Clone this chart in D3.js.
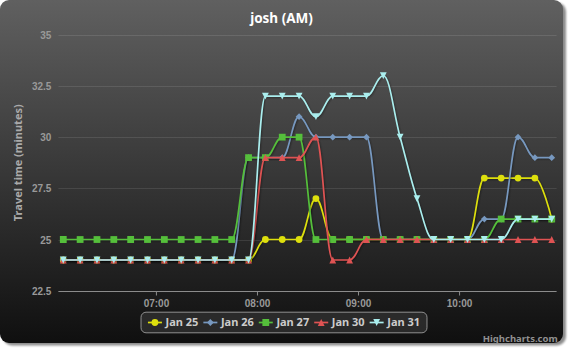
<!DOCTYPE html>
<html>
<head>
<meta charset="utf-8">
<script src="https://cdn.jsdelivr.net/npm/d3@7"></script>
<style>
  html, body { margin: 0; padding: 0; background: #ffffff; }
  svg { display: block; font-family: "Noto Sans", "DejaVu Sans", sans-serif; }
</style>
</head>
<body>
<svg id="chart" width="571" height="349"></svg>
<script>
// ---- data ----
const times = ["06:05","06:15","06:25","06:35","06:45","06:55",
               "07:05","07:15","07:25","07:35","07:45","07:55",
               "08:05","08:15","08:25","08:35","08:45","08:55",
               "09:05","09:15","09:25","09:35","09:45","09:55",
               "10:05","10:15","10:25","10:35","10:45","10:55"];
const seriesNames = ["Jan 25", "Jan 26", "Jan 27", "Jan 30", "Jan 31"];
const jan25 = [24,24,24,24,24,24,24,24,24,24,24,24,25,25,25,27,25,25,25,25,25,25,25,25,25,28,28,28,28,26];
const jan26 = [24,24,24,24,24,24,24,24,24,24,24,29,29,29,31,30,30,30,30,25,25,25,25,25,25,26,26,30,29,29];
const jan27 = [25,25,25,25,25,25,25,25,25,25,25,29,29,30,30,25,25,25,25,25,25,25,25,25,25,25,26,26,26,26];
const jan30 = [24,24,24,24,24,24,24,24,24,24,24,24,29,29,29,30,24,24,25,25,25,25,25,25,25,25,25,25,25,25];
const jan31 = [24,24,24,24,24,24,24,24,24,24,24,24,32,32,32,31,32,32,32,33,30,27,25,25,25,25,25,26,26,26];
const seriesValues = [jan25, jan26, jan27, jan30, jan31];
const seriesColors = ["#DDDF0D", "#7798BF", "#55BF3B", "#DF5353", "#AAEEEE"];
const markerShapes = ["circle", "diamond", "square", "triangle", "triangle-down"];
const yTickValues = [22.5, 25, 27.5, 30, 32.5, 35];
const xTickLabels = ["07:00", "08:00", "09:00", "10:00"];
const titleText = "josh (AM)";
const yTitleText = "Travel time (minutes)";
const creditText = "Highcharts.com";

// ---- layout ----
const chartW = 563, chartH = 343;
const plot = { left: 58.4, right: 556.6, top: 34.8, bottom: 290.7 };
const lineW = 1.7, markerR = 3.4;

const svg = d3.select("#chart");
const defs = svg.append("defs");

const grad = defs.append("linearGradient")
  .attr("id", "bg").attr("gradientUnits", "userSpaceOnUse")
  .attr("x1", 0).attr("y1", 0).attr("x2", 0).attr("y2", 340);
grad.append("stop").attr("offset", 0).attr("stop-color", "rgb(96,96,96)");
grad.append("stop").attr("offset", 1).attr("stop-color", "rgb(16,16,16)");

const blur = defs.append("filter").attr("id", "soft")
  .attr("x", "-5%").attr("y", "-5%").attr("width", "110%").attr("height", "110%");
blur.append("feGaussianBlur").attr("stdDeviation", 1.3);

// frame with its drop shadow
svg.append("rect").attr("x", 3).attr("y", 2.5).attr("width", chartW).attr("height", chartH)
  .attr("rx", 9).attr("fill", "#000").attr("opacity", 0.45).attr("filter", "url(#soft)");
svg.append("rect").attr("x", 0).attr("y", 0).attr("width", chartW).attr("height", chartH)
  .attr("rx", 9).attr("fill", "url(#bg)");

// ---- scales ----
const parseTime = d3.timeParse("%H:%M");
const tDates = times.map(parseTime);
const [t0, t1] = d3.extent(tDates);
const pad = (t1 - t0) * 0.01;
const x = d3.scaleTime()
  .domain([new Date(+t0 - pad), new Date(+t1 + pad)])
  .range([plot.left, plot.right]);
const y = d3.scaleLinear()
  .domain([yTickValues[0], yTickValues[yTickValues.length - 1]])
  .range([plot.bottom, plot.top]);

// ---- grid + y axis ----
svg.append("g").selectAll("line").data(yTickValues.slice(1)).join("line")
  .attr("x1", plot.left).attr("x2", plot.right)
  .attr("y1", d => Math.round(y(d)) + 0.5).attr("y2", d => Math.round(y(d)) + 0.5)
  .attr("stroke", "rgba(255,255,255,0.1)").attr("stroke-width", 1);

const yAxis = svg.append("g").attr("transform", `translate(${plot.left - 7},0)`)
  .call(d3.axisLeft(y).tickValues(yTickValues).tickSize(0).tickPadding(0)
        .tickFormat(d => String(d)));
yAxis.select(".domain").remove();
yAxis.selectAll("text")
  .attr("fill", "#999").attr("font-size", 10).attr("font-weight", "bold")
  .attr("dy", "0.35em");

svg.append("text")
  .attr("transform", `translate(22,${(plot.top + plot.bottom) / 2}) rotate(-90)`)
  .attr("text-anchor", "middle")
  .attr("fill", "#AAA").attr("font-size", 11).attr("font-weight", "bold")
  .text(yTitleText);

// ---- x axis ----
const xAxis = svg.append("g").attr("transform", `translate(0,${Math.round(plot.bottom) + 0.5})`)
  .call(d3.axisBottom(x).tickValues(xTickLabels.map(parseTime)).tickSizeOuter(0)
        .tickSize(4).tickPadding(4).tickFormat(d3.timeFormat("%H:%M")));
xAxis.select(".domain").attr("stroke", "#8c8c8c").attr("d", `M${plot.left},0H${plot.right}`);
xAxis.selectAll(".tick line").attr("stroke", "#8c8c8c");
xAxis.selectAll("text")
  .attr("fill", "#999").attr("font-size", 10).attr("font-weight", "bold");

// ---- title ----
svg.append("text").attr("x", chartW / 2).attr("y", 23)
  .attr("text-anchor", "middle").attr("fill", "#FFF")
  .attr("font-size", 13.5).attr("font-weight", "bold")
  .text(titleText);

// ---- spline curve (cubic, control points at 1/2.5 of the gap, no false extremes) ----
function HcSpline(context) { this._context = context; }
HcSpline.prototype = {
  areaStart() {}, areaEnd() {},
  lineStart() { this._pts = []; },
  point(px, py) { this._pts.push([+px, +py]); },
  lineEnd() {
    const p = this._pts, n = p.length, ctx = this._context;
    const s = 1.5, den = s + 1;
    if (!n) return;
    const ctrl = p.map(([cx, cy], i) => {
      if (i === 0 || i === n - 1) return { lx: cx, ly: cy, rx: cx, ry: cy };
      const [ax, ay] = p[i - 1], [bx, by] = p[i + 1];
      let lcx = (s * cx + ax) / den, lcy = (s * cy + ay) / den;
      let rcx = (s * cx + bx) / den, rcy = (s * cy + by) / den;
      let c = 0;
      if (rcx !== lcx) c = ((rcy - lcy) * (rcx - cx)) / (rcx - lcx) + cy - rcy;
      lcy += c; rcy += c;
      if (lcy > ay && lcy > cy) { lcy = Math.max(ay, cy); rcy = 2 * cy - lcy; }
      else if (lcy < ay && lcy < cy) { lcy = Math.min(ay, cy); rcy = 2 * cy - lcy; }
      if (rcy > by && rcy > cy) { rcy = Math.max(by, cy); lcy = 2 * cy - rcy; }
      else if (rcy < by && rcy < cy) { rcy = Math.min(by, cy); lcy = 2 * cy - rcy; }
      return { lx: lcx, ly: lcy, rx: rcx, ry: rcy };
    });
    ctx.moveTo(p[0][0], p[0][1]);
    for (let i = 1; i < n; i++) {
      ctx.bezierCurveTo(ctrl[i - 1].rx, ctrl[i - 1].ry, ctrl[i].lx, ctrl[i].ly, p[i][0], p[i][1]);
    }
  }
};
const hcSpline = context => new HcSpline(context);

function markerPath(shape, cx, cy, r) {
  switch (shape) {
    case "circle":
      return `M${cx - r},${cy}a${r},${r} 0 1,0 ${2 * r},0a${r},${r} 0 1,0 ${-2 * r},0Z`;
    case "square":
      return `M${cx - r},${cy - r}h${2 * r}v${2 * r}h${-2 * r}Z`;
    case "diamond":
      return `M${cx},${cy - r}L${cx + r},${cy}L${cx},${cy + r}L${cx - r},${cy}Z`;
    case "triangle":
      return `M${cx},${cy - r}L${cx + r},${cy + r}L${cx - r},${cy + r}Z`;
    case "triangle-down":
      return `M${cx - r},${cy - r}L${cx + r},${cy - r}L${cx},${cy + r}Z`;
  }
}

const line = d3.line().x((d, i) => x(tDates[i])).y(d => y(d)).curve(hcSpline);

// ---- series ----
seriesValues.forEach((vals, si) => {
  const g = svg.append("g").attr("class", "series");
  const dPath = line(vals);
  [[4.3, 0.05], [2.6, 0.1], [0.9, 0.15]].forEach(([w, o]) => {
    g.append("path").attr("d", dPath).attr("fill", "none")
      .attr("stroke", "#000").attr("stroke-opacity", o).attr("stroke-width", w)
      .attr("stroke-linejoin", "round").attr("stroke-linecap", "round")
      .attr("transform", "translate(1,1)");
  });
  g.append("path").attr("d", dPath).attr("fill", "none")
    .attr("stroke", seriesColors[si]).attr("stroke-width", lineW)
    .attr("stroke-linejoin", "round").attr("stroke-linecap", "round");
  g.selectAll("path.marker").data(vals).join("path").attr("class", "marker")
    .attr("d", (d, i) => markerPath(markerShapes[si], x(tDates[i]), y(d), markerR))
    .attr("fill", seriesColors[si]);
});

// ---- legend ----
const legend = svg.append("g");
const legendBox = legend.append("rect");
const itemsG = legend.append("g");
const symW = 14, symPad = 3.6, itemGap = 5, legPadL = 7.4, legPadR = 6.4;
let cursor = 0;
seriesNames.forEach((name, si) => {
  const it = itemsG.append("g").attr("transform", `translate(${cursor},0)`);
  it.append("line").attr("x1", 0).attr("x2", symW).attr("y1", 0).attr("y2", 0)
    .attr("stroke", seriesColors[si]).attr("stroke-width", lineW);
  it.append("path").attr("d", markerPath(markerShapes[si], symW / 2, 0, markerR))
    .attr("fill", seriesColors[si]);
  const t = it.append("text").attr("x", symW + symPad).attr("y", 0).attr("dy", "0.35em")
    .attr("fill", "#CCC").attr("font-size", 11).attr("font-weight", "bold").text(name);
  const tw = t.node().getComputedTextLength();
  cursor += symW + symPad + tw + (si < seriesNames.length - 1 ? itemGap : 0);
});
const legW = legPadL + cursor + legPadR, legH = 20.6;
const legX = chartW / 2 + 2 - legW / 2, legY = 311.7;
legendBox.attr("x", legX + 0.5).attr("y", legY + 0.5).attr("width", legW).attr("height", legH)
  .attr("rx", 5).attr("fill", "rgba(48,48,48,0.8)").attr("stroke", "#909090").attr("stroke-width", 1);
itemsG.attr("transform", `translate(${legX + legPadL},${legY + legH / 2 + 0.5})`);

// ---- credits ----
svg.append("text").attr("x", 557.7).attr("y", 341.5).attr("text-anchor", "end")
  .attr("fill", "#909090").attr("font-size", 9.5).attr("font-weight", "bold").text(creditText);
</script>
</body>
</html>
